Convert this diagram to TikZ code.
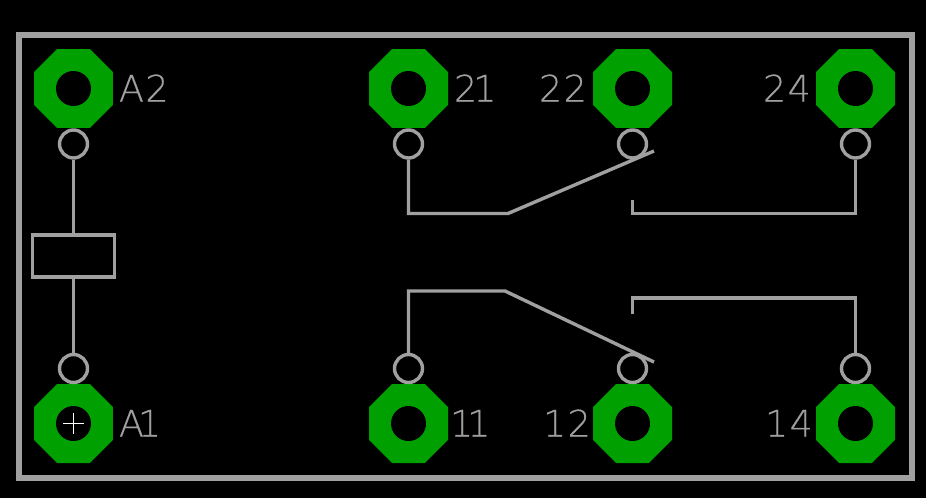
\documentclass[tikz,border=0pt]{standalone}
\usepackage{fontspec}
\setmainfont{DejaVu Sans ExtraLight}[LetterSpace=4,FakeBold=0.3]
\usetikzlibrary{shapes.geometric}
\definecolor{wiregray}{RGB}{160,160,160}
\definecolor{padgreen}{RGB}{0,160,0}
\tikzset{
  x=1pt,y=-1pt,
  pad/.style={regular polygon,regular polygon sides=8,fill=padgreen,draw=none,minimum size=85.5pt,inner sep=0pt},
  hole/.style={circle,fill=black,draw=none,minimum size=35pt,inner sep=0pt},
  pin/.style={circle,draw=wiregray,line width=3.4pt,fill=none,minimum size=28pt,inner sep=0pt},
  wire/.style={draw=wiregray,line width=3.4pt,line join=miter},
  frameline/.style={draw=wiregray,line width=6pt},
  coilbox/.style={rectangle,draw=wiregray,line width=3.4pt,minimum width=82pt,minimum height=42pt,inner sep=0pt},
  lbl/.style={text=wiregray,font=\fontsize{36.5}{36.5}\selectfont,anchor=base west,inner sep=0pt,outer sep=0pt},
}
\begin{document}
\begin{tikzpicture}
\useasboundingbox[fill=black] (0,0) rectangle (926,498);
\node[rectangle,frameline,fill=none,minimum width=893pt,minimum height=443.5pt,inner sep=0pt] (frame) at (465.5,256.25) {};
% pads
\foreach \n/\x/\y in {a2/73.5/88.5,p21/408.5/88.5,p22/632.5/88.5,p24/855.5/88.5,a1/73.5/423.5,p11/408.5/423.5,p12/632.5/423.5,p14/855.5/423.5}{
  \node[pad] (\n) at (\x,\y) {};
  \node[hole] (h\n) at (\x,\y) {};
}
% pins
\node[pin] (ta2) at (73.5,144) {};
\node[pin] (t21) at (408.5,144) {};
\node[pin] (t22) at (632.5,144) {};
\node[pin] (t24) at (855.5,144) {};
\node[pin] (ba1) at (73.5,368.5) {};
\node[pin] (b11) at (408.5,368.5) {};
\node[pin] (b12) at (632.5,368.5) {};
\node[pin] (b14) at (855.5,368.5) {};
% coil
\node[coilbox] (coil) at (73.5,256) {};
\draw[wire] (ta2) -- (coil);
\draw[wire] (ba1) -- (coil);
% contacts
\coordinate (s2a) at (508,213.5);
\coordinate (s2b) at (654,151);
\coordinate (c2a) at (632.5,200);
\coordinate (s1a) at (505,291);
\coordinate (s1b) at (654,362);
\coordinate (c1a) at (632.5,314);
\draw[wire] (t21.south) |- (s2a) -- (s2b);
\draw[wire] (c2a) |- (s2a -| t24.south) -- (t24.south);
\draw[wire] (b11.north) |- (s1a) -- (s1b);
\draw[wire] (c1a) -- (632.5,298) -- (855.5,298) -- (b14.north);
% origin cross
\draw[white,line width=1pt] (63,423.5) -- (84,423.5) (73.5,413) -- (73.5,434);
% labels
\node[lbl] (la2) at (119,101.5) {A2};
\node[lbl] (l21) at (454,101.5) {2\kern-4pt 1};
\node[lbl] (l22) at (539,101.5) {22};
\node[lbl] (l24) at (763,101.5) {24};
\node[lbl] (la1) at (119,436.5) {A\kern-6pt 1};
\node[lbl] (l11) at (450,436.5) {1\kern-6pt 1};
\node[lbl] (l12) at (543,436.5) {12};
\node[lbl] (l14) at (765,436.5) {14};
\end{tikzpicture}
\end{document}
